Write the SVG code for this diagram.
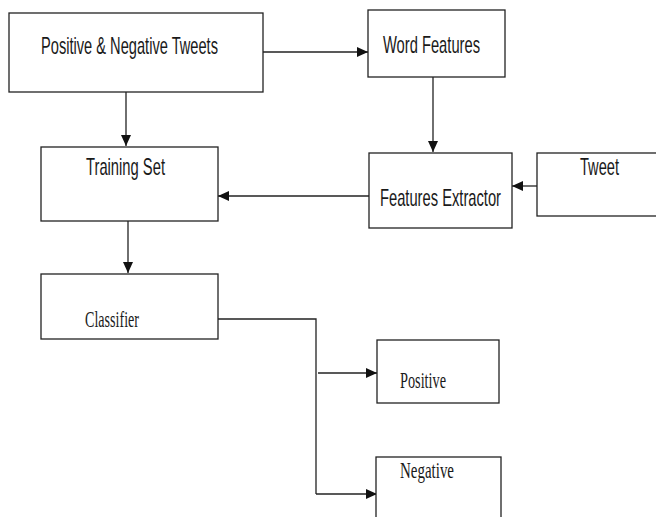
<svg xmlns="http://www.w3.org/2000/svg" width="656" height="517" viewBox="0 0 656 517">
<style>
.box{fill:#fff;stroke:#222;stroke-width:1.3}
.sans{font-family:"Liberation Sans",Arial,sans-serif;font-size:24px;fill:#1a1a1a}
.serif{font-family:"Liberation Serif","Times New Roman",serif;font-size:24px;fill:#1a1a1a}
.con{fill:none;stroke:#222;stroke-width:1.3}
</style>
<defs>
<marker id="arr" markerUnits="userSpaceOnUse" markerWidth="12" markerHeight="11" refX="11" refY="5" orient="auto">
<path d="M0,0 L11,5 L0,10 z" fill="#111"/>
</marker>
</defs>
<rect width="656" height="517" fill="#fff"/>
<g id="connectors">
<line class="con" x1="263" y1="52" x2="368" y2="52" marker-end="url(#arr)"/>
<line class="con" x1="126" y1="92" x2="126" y2="146" marker-end="url(#arr)"/>
<line class="con" x1="433" y1="77" x2="433" y2="152" marker-end="url(#arr)"/>
<line class="con" x1="537" y1="186" x2="512" y2="186" marker-end="url(#arr)"/>
<line class="con" x1="369" y1="196" x2="218" y2="196" marker-end="url(#arr)"/>
<line class="con" x1="128" y1="221" x2="128" y2="273" marker-end="url(#arr)"/>
<polyline class="con" points="218,319 316,319 316,494"/>
<line class="con" x1="318" y1="373" x2="377" y2="373" marker-end="url(#arr)"/>
<line class="con" x1="316" y1="494" x2="377" y2="494" marker-end="url(#arr)"/>
</g>
<g id="posneg">
<rect class="box" x="9" y="13" width="254" height="79"/>
<text class="sans" x="41" y="54" textLength="177" lengthAdjust="spacingAndGlyphs">Positive &amp; Negative Tweets</text>
</g>
<g id="wordfeatures">
<rect class="box" x="368" y="10" width="137" height="67"/>
<text class="sans" x="383" y="53" textLength="97" lengthAdjust="spacingAndGlyphs">Word Features</text>
</g>
<g id="trainingset">
<rect class="box" x="41" y="147" width="177" height="74"/>
<text class="sans" x="86" y="175" textLength="79" lengthAdjust="spacingAndGlyphs">Training Set</text>
</g>
<g id="featuresextractor">
<rect class="box" x="369" y="153" width="143" height="75"/>
<text class="sans" x="380" y="206" textLength="121" lengthAdjust="spacingAndGlyphs">Features Extractor</text>
</g>
<g id="tweet">
<rect class="box" x="537" y="153" width="130" height="63"/>
<text class="sans" x="580" y="175" textLength="39" lengthAdjust="spacingAndGlyphs">Tweet</text>
</g>
<g id="classifier">
<rect class="box" x="41" y="274" width="177" height="65"/>
<text class="serif" x="85" y="327" textLength="54" lengthAdjust="spacingAndGlyphs">Classifier</text>
</g>
<g id="positive">
<rect class="box" x="377" y="340" width="122" height="63"/>
<text class="serif" x="400" y="388" textLength="46" lengthAdjust="spacingAndGlyphs">Positive</text>
</g>
<g id="negative">
<rect class="box" x="376" y="457" width="125" height="80"/>
<text class="serif" x="400" y="478" textLength="54" lengthAdjust="spacingAndGlyphs">Negative</text>
</g>
</svg>
